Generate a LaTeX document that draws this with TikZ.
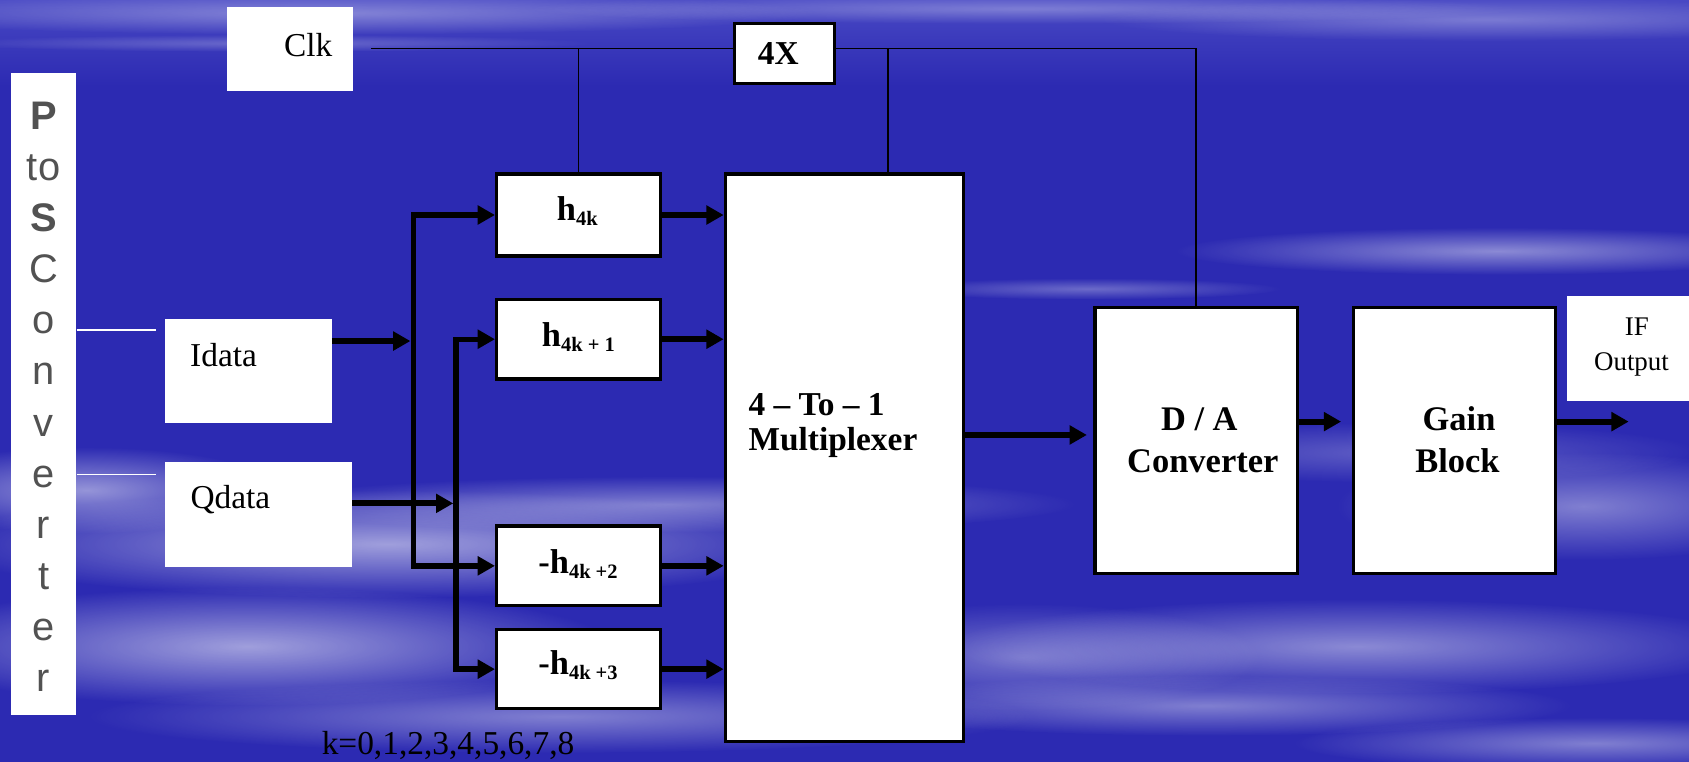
\documentclass[tikz,border=0pt]{standalone}
\usepackage{fontspec}
\setmainfont{Liberation Serif}
\newfontfamily\psfont{Liberation Sans}
\usetikzlibrary{arrows.meta,fadings}

\definecolor{bgblue}{RGB}{44,42,178}
\definecolor{bgtop}{RGB}{72,72,196}
\definecolor{psgray}{RGB}{82,82,82}

% soft white haze: an ellipse whose edge fades out
\tikzfading[name=softedge, inner color=transparent!0, outer color=transparent!100]
\newcommand\haze[5]{%
  \fill[white, opacity=#5, path fading=softedge] (#1,#2) ellipse [x radius=#3, y radius=#4];}

\tikzset{
  whitebox/.style={fill=white, draw=none, inner sep=0pt},
  blockbox/.style={fill=white, draw=black, line width=3pt, inner sep=0pt},
  clkwire/.style={draw=black, line width=1.5pt},
  feedwire/.style={draw=white, line width=1.5pt},
  thickarrow/.style={draw=black, line width=5.5pt, -{Triangle[length=16pt,width=17pt]}},
  busarrow/.style={draw=black, line width=5pt,
    {Triangle[length=16pt,width=17pt]}-{Triangle[length=16pt,width=17pt]}},
  rtext/.style={inner sep=0pt, font=\fontsize{31}{31}\selectfont},
  btext/.style={inner sep=0pt, font=\fontsize{31}{31}\selectfont\bfseries},
  dtext/.style={inner sep=0pt, font=\fontsize{32}{32}\selectfont\bfseries},
  stext/.style={inner sep=0pt, font=\fontsize{25}{25}\selectfont},
  pstext/.style={inner sep=0pt, text=psgray, font=\fontsize{37}{37}\psfont},
  htext/.style={inner sep=0pt, font=\fontsize{32}{32}\selectfont\bfseries},
}

\newcommand\hlab[2]{#1h\raisebox{-4.5pt}{\fontsize{19}{19}\selectfont\bfseries #2}}

\begin{document}
\begin{tikzpicture}[x=1pt,y=-1pt]
\useasboundingbox (0,0) rectangle (1568,707);

% background sky
\fill[bgblue] (0,0) rectangle (1568,707);
\shade[top color=bgtop, bottom color=bgblue] (0,0) rectangle (1568,80);
\haze{300}{12}{460}{20}{0.35}
\haze{250}{40}{300}{8}{0.25}
\haze{950}{8}{460}{14}{0.3}
\haze{1380}{18}{360}{20}{0.3}
\haze{1390}{233}{300}{22}{0.45}
\haze{1010}{268}{180}{10}{0.3}
\haze{360}{505}{420}{50}{0.55}
\haze{230}{600}{340}{55}{0.55}
\haze{620}{468}{380}{26}{0.4}
\haze{80}{455}{180}{40}{0.5}
\haze{520}{665}{440}{34}{0.4}
\haze{950}{610}{220}{50}{0.35}
\haze{1260}{600}{380}{44}{0.45}
\haze{1470}{470}{230}{50}{0.4}
\haze{1120}{655}{340}{28}{0.4}
\haze{1480}{690}{280}{24}{0.4}
\haze{1300}{420}{280}{28}{0.25}

% borderless white label boxes
\node[whitebox, minimum width=117pt, minimum height=77.4pt] (clk) at (268.9,45.5) {};
\node[whitebox, minimum width=154.8pt, minimum height=95.8pt] (idata) at (230.6,344.5) {};
\node[whitebox, minimum width=174pt, minimum height=98pt] (qdata) at (240,477.6) {};
\node[whitebox, minimum width=61.1pt, minimum height=595.8pt] (ps) at (40.45,365.9) {};
\node[whitebox, minimum width=113pt, minimum height=97.5pt] (ifout) at (1511.5,323.5) {};

\node[rtext, anchor=base west] (clktext) at (263.6,52.6) {Clk};
\node[rtext, anchor=base west] (idtext) at (176.4,340.4) {Idata};
\node[rtext, anchor=base west] (qdtext) at (176.7,471.6) {Qdata};
\node[stext, anchor=base] (iftext) at (1519.6,311) {IF};
\node[stext, anchor=base] (outtext) at (1514.6,343.5) {Output};
\node[rtext, anchor=base west] (krange) at (298.5,700) {k=0,1,2,3,4,5,6,7,8};

\foreach \ch [count=\i from 0] in {{\bfseries P},to,{\bfseries S},C,o,n,v,e,r,t,e,r}
  \node[pstext, anchor=base] (ps\i) at (40.45,{120+47.46*\i}) {\ch};

% framed blocks
\node[blockbox, minimum width=93pt, minimum height=55.5pt] (fourx) at (728.3,49.6) {};
\node[blockbox, minimum width=152pt, minimum height=76pt] (h0) at (537,199.6) {};
\node[blockbox, minimum width=152pt, minimum height=74pt] (h1) at (537,314.9) {};
\node[blockbox, minimum width=152pt, minimum height=74pt] (h2) at (537,525.3) {};
\node[blockbox, minimum width=152pt, minimum height=73pt] (h3) at (537,621.2) {};
\node[blockbox, minimum width=221pt, minimum height=527pt] (mux) at (783.8,425) {};
\node[blockbox, minimum width=188pt, minimum height=247pt] (da) at (1110.5,409) {};
\node[blockbox, minimum width=188pt, minimum height=247pt] (gain) at (1350.4,409) {};

\node[btext, anchor=base] (fxtext) at (722.5,60.3) {4X};
\node[htext, anchor=base] (h0text) at (536,205) {\hlab{}{4k}};
\node[htext, anchor=base] (h1text) at (537,321.5) {\hlab{}{4k + 1}};
\node[htext, anchor=base] (h2text) at (536.6,532.5) {\hlab{-}{4k +2}};
\node[htext, anchor=base] (h3text) at (536.6,626.6) {\hlab{-}{4k +3}};
\node[btext, anchor=base west] (muxa) at (694.7,385.3) {4 – To – 1};
\node[btext, anchor=base west] (muxb) at (694.7,417.8) {Multiplexer};
\node[dtext, anchor=base] (daa) at (1113.4,399.8) {D / A};
\node[dtext, anchor=base] (dab) at (1116.6,438.8) {Converter};
\node[dtext, anchor=base] (gaina) at (1354.5,399.8) {Gain};
\node[dtext, anchor=base] (gainb) at (1353,438.8) {Block};

% clock distribution
\coordinate (clkin) at (344.6,44.9);
\coordinate (muxtap) at (824.5,44.9);
\draw[clkwire] (clkin) -- (clkin -| fourx.west);
\draw[clkwire] (clkin -| fourx.east) -- (clkin -| da.north) -- (da.north);
\draw[clkwire] (clkin -| h0.north) -- (h0.north);
\draw[clkwire] (muxtap) -- (muxtap |- mux.north);

% white feeds from the P-to-S converter
\coordinate (ifeed) at (145,306.4);
\coordinate (qfeed) at (145,440.4);
\draw[feedwire] (ifeed -| ps.east) -- (ifeed);
\draw[feedwire] (qfeed -| ps.east) -- (qfeed);

% I and Q distribution buses
\coordinate (busI) at (383.6,0);
\coordinate (busQ) at (423.3,0);
\coordinate (iin) at (381,316.6);
\coordinate (qin) at (420.8,467.3);
\draw[busarrow] (h0.west) -- (h0.west -| busI) -- (h2.west -| busI) -- (h2.west);
\draw[busarrow] (h1.west) -- (h1.west -| busQ) -- (h3.west -| busQ) -- (h3.west);
\draw[thickarrow] (iin -| idata.east) -- (iin);
\draw[thickarrow] (qin -| qdata.east) -- (qin);

% filter outputs into the multiplexer and the output chain
\foreach \n in {h0,h1,h2,h3}
  \draw[thickarrow] (\n.east) -- (\n.east -| mux.west);
\coordinate (daend) at (1009,403.8);
\coordinate (gainend) at (1245,391.4);
\coordinate (ifend) at (1512,391.4);
\draw[thickarrow] (daend -| mux.east) -- (daend);
\draw[thickarrow] (gainend -| da.east) -- (gainend);
\draw[thickarrow] (ifend -| gain.east) -- (ifend);
\end{tikzpicture}
\end{document}
